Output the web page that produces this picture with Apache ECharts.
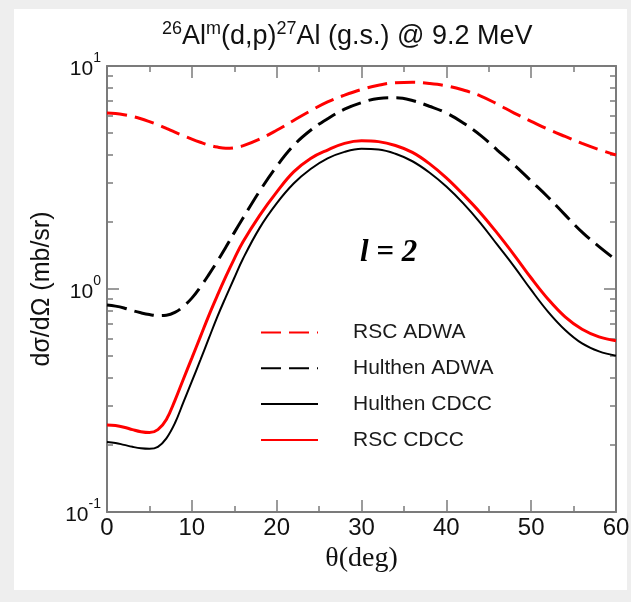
<!DOCTYPE html>
<html>
<head>
<meta charset="utf-8">
<script src="https://cdn.jsdelivr.net/npm/echarts@6/dist/echarts.min.js"></script>
<style>html,body{margin:0;padding:0;background:#eeeeee;}#c{width:631px;height:602px;}</style>
</head>
<body>
<div id="c"></div>
<script>
// ---- data ----
const thetaDeg = [0,1,2,3,4,5,6,7,8,9,10,11,12,13,14,15,16,18,20,22,24,26,28,30,32,34,36,38,40,42,44,46,48,50,52,54,56,58,60];
const rscAdwa = [6.15,6.12,6.05,5.94,5.8,5.63,5.45,5.25,5.05,4.87,4.7,4.55,4.42,4.33,4.28,4.3,4.38,4.7,5.15,5.7,6.3,6.9,7.4,7.85,8.2,8.42,8.45,8.35,8.15,7.8,7.35,6.75,6.15,5.65,5.2,4.83,4.5,4.22,3.99];
const hulthenAdwa = [0.848,0.838,0.822,0.8,0.782,0.768,0.76,0.763,0.785,0.835,0.91,1.02,1.16,1.33,1.54,1.79,2.07,2.75,3.55,4.4,5.15,5.8,6.4,6.85,7.15,7.2,7.0,6.6,6.15,5.55,4.9,4.2,3.6,3.05,2.58,2.15,1.8,1.55,1.35];
const hulthenCdcc = [0.206,0.204,0.2,0.196,0.193,0.192,0.196,0.214,0.25,0.31,0.385,0.48,0.6,0.75,0.92,1.12,1.36,1.88,2.42,2.97,3.45,3.85,4.12,4.25,4.22,4.04,3.74,3.33,2.88,2.42,1.98,1.58,1.26,0.99,0.79,0.655,0.57,0.525,0.502];
const rscCdcc = [0.2455,0.244,0.24,0.234,0.229,0.227,0.234,0.26,0.316,0.394,0.49,0.61,0.76,0.933,1.135,1.365,1.62,2.14,2.72,3.35,3.85,4.2,4.5,4.62,4.58,4.4,4.1,3.65,3.15,2.65,2.2,1.78,1.42,1.12,0.9,0.75,0.66,0.61,0.586];
const seriesNames = ['RSC ADWA','Hulthen ADWA','Hulthen CDCC','RSC CDCC'];
const xTickLabels = ['0','10','20','30','40','50','60'];
const yTickValues = [0.1, 1, 10];
const yTickExponents = ['-1','0','1'];
const yMinorTickValues = [0.2,0.3,0.4,0.5,0.6,0.7,0.8,0.9,2,3,4,5,6,7,8,9];

const pair = arr => thetaDeg.map((t, i) => [t, arr[i]]);
const AX = '#7b7b7b';
const FONT = 'Liberation Sans, Arial';
const GRID = {left: 107, top: 66, width: 509, height: 446};

function yLabel(v) {
  let idx = -1;
  for (let i = 0; i < yTickValues.length; i++) {
    if (Math.abs(v - yTickValues[i]) / yTickValues[i] < 1e-6) idx = i;
  }
  if (idx < 0) return '';
  return '{b|10}{s|' + yTickExponents[idx] + '}';
}

const xBase = {
  type: 'value', min: 0, max: 60, interval: 10,
  axisLine: {show: true, onZero: false, lineStyle: {color: AX, width: 2}},
  axisTick: {show: true, inside: true, length: 12, lineStyle: {color: AX, width: 1.5}},
  minorTick: {show: true, splitNumber: 2, length: 6, lineStyle: {color: AX, width: 1.5}},
  splitLine: {show: false}, minorSplitLine: {show: false}
};

const chart = echarts.init(document.getElementById('c'), null, {renderer: 'canvas'});
chart.setOption({
  backgroundColor: '#eeeeee',
  animation: false,
  graphic: [
    {type: 'rect', shape: {x: 14, y: 9, width: 613, height: 581}, style: {fill: '#ffffff'}, z: -10, silent: true},
    {type: 'text', left: 360, top: 237, z: 10,
     style: {text: 'l = 2', font: 'italic bold 31px "Liberation Serif", serif', fill: '#000'}}
  ],
  title: {
    left: 162, top: 23, padding: 0,
    text: '{m|}{s|26}{m|Al}{s|m}{m|(d,p)}{s|27}{m|Al (g.s.) @ 9.2 MeV}',
    textStyle: {
      fontWeight: 'normal',
      rich: {
        m: {fontSize: 27, fontWeight: 'normal', fontFamily: FONT, color: '#111', lineHeight: 27, verticalAlign: 'bottom'},
        s: {fontSize: 18, fontWeight: 'normal', fontFamily: FONT, color: '#111', lineHeight: 18, padding: [0,0,12,0], verticalAlign: 'bottom'}
      }
    }
  },
  legend: {
    orient: 'vertical', left: 255, top: 317,
    itemWidth: 57, itemHeight: 14, itemGap: 14.8,
    data: seriesNames,
    itemStyle: {opacity: 0},
    textStyle: {fontSize: 21, fontFamily: FONT, color: '#1a1a1a', padding: [0,0,0,30]}
  },
  grid: Object.assign({containLabel: false, outerBoundsMode: 'none'}, GRID),
  xAxis: [
    Object.assign({}, xBase, {
      position: 'bottom',
      name: 'θ(deg)', nameLocation: 'middle', nameGap: 26,
      nameTextStyle: {fontSize: 28, fontFamily: 'Liberation Serif, Times New Roman', color: '#111'},
      axisLabel: {show: true, fontSize: 24, margin: 4, color: '#111', fontFamily: FONT,
        formatter: v => xTickLabels[Math.round(v / 10)]}
    }),
    Object.assign({}, xBase, {position: 'top', axisLabel: {show: false}})
  ],
  yAxis: [
    {
      type: 'log', logBase: 10, min: 0.1, max: 10, position: 'left',
      name: 'dσ/dΩ (mb/sr)', nameLocation: 'middle', nameGap: 52, nameRotate: 90,
      nameTextStyle: {fontSize: 25, fontFamily: FONT, color: '#111'},
      axisLine: {show: true, onZero: false, lineStyle: {color: AX, width: 2}},
      axisTick: {show: true, inside: true, length: 12, lineStyle: {color: AX, width: 1.5}},
      splitLine: {show: false},
      axisLabel: {
        show: true, margin: 6, padding: [6,0,0,0], formatter: yLabel,
        rich: {
          b: {fontSize: 21, fontFamily: FONT, color: '#111', lineHeight: 21, verticalAlign: 'bottom'},
          s: {fontSize: 14, fontFamily: FONT, color: '#111', lineHeight: 14, padding: [0,0,14,0], verticalAlign: 'bottom'}
        }
      }
    },
    {
      type: 'value', min: -1, max: 1, position: 'left',
      axisLine: {show: false, onZero: false},
      axisTick: {show: true, inside: true, length: 6, customValues: yMinorTickValues.map(v => Math.log10(v)), lineStyle: {color: AX, width: 1.5}},
      axisLabel: {show: false}, splitLine: {show: false}
    },
    {
      type: 'log', logBase: 10, min: 0.1, max: 10, position: 'right',
      axisLine: {show: true, onZero: false, lineStyle: {color: AX, width: 2}},
      axisTick: {show: true, inside: true, length: 12, lineStyle: {color: AX, width: 1.5}},
      axisLabel: {show: false}, splitLine: {show: false}
    },
    {
      type: 'value', min: -1, max: 1, position: 'right',
      axisLine: {show: false, onZero: false},
      axisTick: {show: true, inside: true, length: 6, customValues: yMinorTickValues.map(v => Math.log10(v)), lineStyle: {color: AX, width: 1.5}},
      axisLabel: {show: false}, splitLine: {show: false}
    }
  ],
  series: [
    {name: seriesNames[0], type: 'line', data: pair(rscAdwa), smooth: 0.4, symbol: 'none', xAxisIndex: 0, yAxisIndex: 0,
     lineStyle: {color: '#ff0000', width: 3, type: [20, 8]}, itemStyle: {color: '#ff0000'}},
    {name: seriesNames[1], type: 'line', data: pair(hulthenAdwa), smooth: 0.4, symbol: 'none', xAxisIndex: 0, yAxisIndex: 0,
     lineStyle: {color: '#000000', width: 3, type: [20, 8]}, itemStyle: {color: '#000000'}},
    {name: seriesNames[2], type: 'line', data: pair(hulthenCdcc), smooth: 0.4, symbol: 'none', xAxisIndex: 0, yAxisIndex: 0,
     lineStyle: {color: '#000000', width: 2}, itemStyle: {color: '#000000'}},
    {name: seriesNames[3], type: 'line', data: pair(rscCdcc), smooth: 0.4, symbol: 'none', xAxisIndex: 0, yAxisIndex: 0,
     lineStyle: {color: '#ff0000', width: 3}, itemStyle: {color: '#ff0000'}}
  ]
});
</script>
</body>
</html>
